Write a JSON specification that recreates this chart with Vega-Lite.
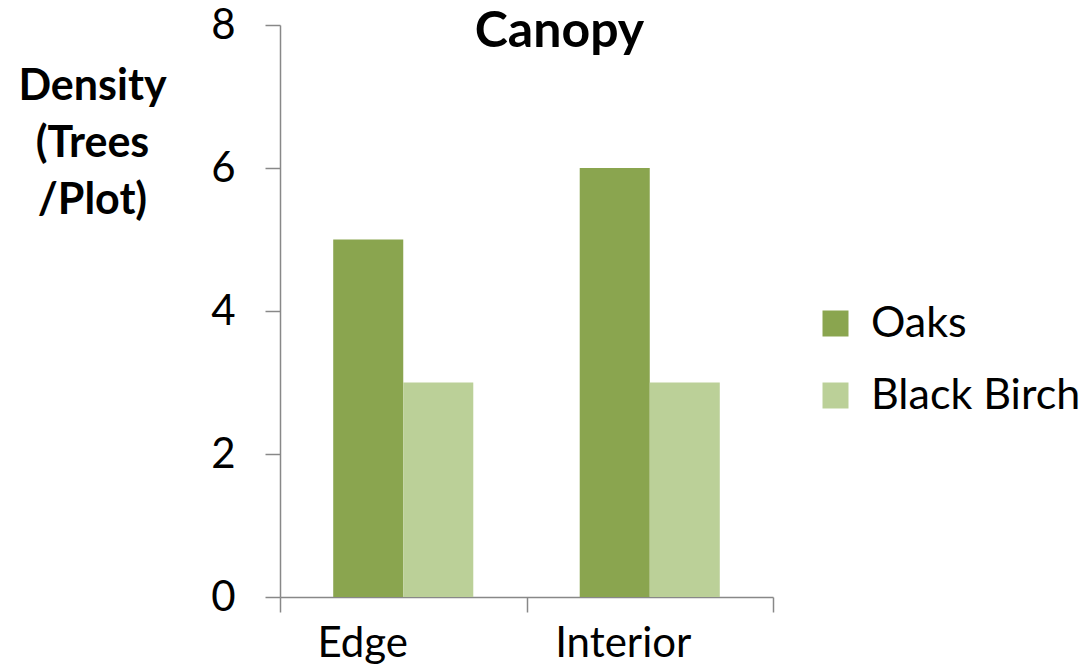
{
  "$schema": "https://vega.github.io/schema/vega-lite/v6.json",
  "width": 493,
  "height": 572,
  "autosize": {"type": "none"},
  "padding": {"left": 280, "top": 25, "right": 317, "bottom": 75},
  "background": "white",
  "config": {"view": {"stroke": null}, "font": "Lato"},
  "title": {
    "text": "Canopy",
    "frame": "group",
    "anchor": "middle",
    "baseline": "alphabetic",
    "offset": 0,
    "dx": 33,
    "dy": 93,
    "fontSize": 50,
    "fontWeight": "bold",
    "color": "black",
    "font": "Lato"
  },
  "data": {
    "values": [
      {"location": "Edge", "species": "Oaks", "density": 5},
      {"location": "Edge", "species": "Black Birch", "density": 3},
      {"location": "Interior", "species": "Oaks", "density": 6},
      {"location": "Interior", "species": "Black Birch", "density": 3}
    ]
  },
  "mark": {"type": "bar"},
  "encoding": {
    "x": {
      "field": "location",
      "type": "nominal",
      "sort": ["Edge", "Interior"],
      "scale": {"paddingInner": 0, "paddingOuter": 0},
      "axis": {
        "title": null,
        "labelAngle": 0,
        "labelFontSize": 42,
        "labelColor": "black",
        "labelPadding": 11,
        "labelOffset": {"expr": "datum.value == 'Edge' ? -41 : -27"},
        "tickBand": "extent",
        "tickSize": 15,
        "tickColor": "#888888",
        "domainColor": "#888888",
        "domainWidth": 1.5,
        "tickWidth": 1.5
      }
    },
    "xOffset": {
      "field": "species",
      "type": "nominal",
      "sort": ["Oaks", "Black Birch"],
      "scale": {"paddingInner": 0, "paddingOuter": 0.76}
    },
    "y": {
      "field": "density",
      "type": "quantitative",
      "scale": {"domain": [0, 8], "nice": false},
      "axis": {
        "values": [0, 2, 4, 6, 8],
        "grid": false,
        "labelFontSize": 42,
        "labelColor": "black",
        "labelPadding": 30,
        "tickSize": 15,
        "tickColor": "#888888",
        "domainColor": "#888888",
        "domainWidth": 1.5,
        "tickWidth": 1.5,
        "title": ["Density", "(Trees", "/Plot)"],
        "titleAngle": 0,
        "titleAlign": "center",
        "titleBaseline": "top",
        "titleX": -188,
        "titleY": 40,
        "titleFontSize": 43,
        "titleFontWeight": "bold",
        "titleLineHeight": 57,
        "titleColor": "black"
      }
    },
    "color": {
      "field": "species",
      "type": "nominal",
      "sort": ["Oaks", "Black Birch"],
      "scale": {"domain": ["Oaks", "Black Birch"], "range": ["#8aa54f", "#bbd098"]},
      "legend": {
        "title": null,
        "orient": "none",
        "legendX": 534,
        "legendY": 277,
        "padding": 0,
        "symbolType": "square",
        "symbolSize": 676,
        "symbolStrokeWidth": 0,
        "symbolOffset": 0,
        "labelFontSize": 43,
        "labelColor": "black",
        "labelOffset": 14,
        "rowPadding": 28,
        "labelLimit": 400
      }
    }
  }
}
